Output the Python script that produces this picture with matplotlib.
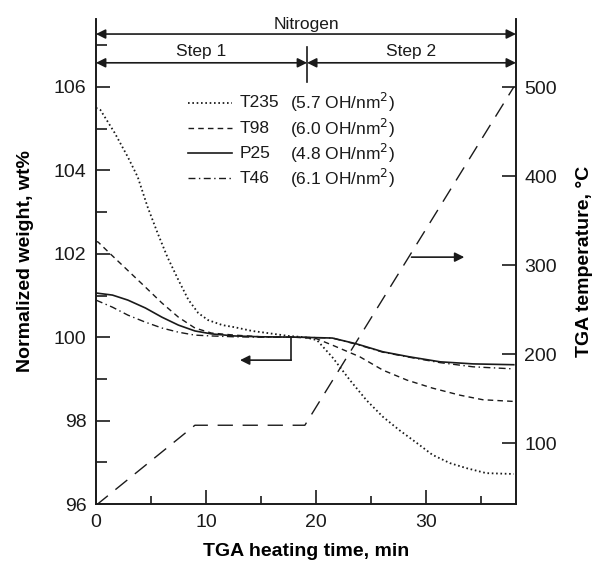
import numpy as np
import matplotlib.pyplot as plt
from matplotlib.ticker import MultipleLocator

plt.rcParams['font.family'] = ['Liberation Sans', 'DejaVu Sans']

# weight curves (time in min, weight in wt%)
t235_t = [0, 0.4, 1.7, 2.9, 3.8, 4.7, 5.6, 6.5, 7.5, 8.4, 9.3, 10.2, 11.5, 12.6, 14.2,
          15.6, 17.5, 19, 20.1, 21.5, 23.1, 24.6, 26.1, 27.6, 29.2, 30.6, 32.2, 33.7,
          35.5, 38]
t235_w = [105.5, 105.45, 104.9, 104.32, 103.84, 103.12, 102.5, 101.92, 101.37, 100.9,
          100.58, 100.41, 100.29, 100.24, 100.15, 100.1, 100.03, 100.0, 99.93, 99.52,
          98.97, 98.49, 98.09, 97.77, 97.46, 97.18, 96.98, 96.86, 96.74, 96.72]

t98_t = [0, 0.2, 1.3, 2.9, 4.5, 6, 7.5, 9, 10.5, 12.6, 15, 18, 20, 21.5, 24, 26.1, 28.3,
         30.6, 33.1, 35.2, 38]
t98_w = [102.3, 102.28, 102.0, 101.6, 101.2, 100.82, 100.48, 100.22, 100.1, 100.05,
         100.01, 100.0, 99.97, 99.81, 99.53, 99.21, 98.97, 98.78, 98.61, 98.5, 98.46]

p25_t = [0, 1.5, 2.9, 4.5, 6, 7.5, 9, 10.5, 12.6, 15, 18.5, 21.5, 23.7, 26.1, 28.5,
         31.3, 34.3, 38]
p25_w = [101.06, 101.01, 100.89, 100.7, 100.48, 100.29, 100.15, 100.08, 100.03, 100.01,
         100.0, 99.98, 99.84, 99.65, 99.53, 99.41, 99.36, 99.34]

t46_t = [0, 1.5, 2.9, 4.5, 6, 7.5, 9, 10.5, 12.6, 15, 18.5, 21.5, 23.7, 26.1, 28.5,
         31.3, 34.3, 38]
t46_w = [100.89, 100.72, 100.53, 100.36, 100.22, 100.12, 100.05, 100.03, 100.01, 100.0,
         100.0, 99.98, 99.83, 99.64, 99.52, 99.39, 99.29, 99.24]

# temperature program
temp_t = [0, 9, 19, 38]
temp_c = [30, 120, 120, 500]

names = ['T235', 'T98', 'P25', 'T46']
oh_density = ['5.7', '6.0', '4.8', '6.1']

col = '#1a1a1a'

fig = plt.figure(figsize=(5.98, 5.73), dpi=100)
ax = fig.add_axes([0.1605, 0.1204, 0.7023, 0.8464])
ax2 = ax.twinx()

styles = [
    dict(linestyle=(0, (0.9, 1.5)), lw=1.3),
    dict(linestyle=(0, (4, 3)), lw=1.0),
    dict(linestyle='-', lw=1.2),
    dict(linestyle=(0, (5, 2.5, 1, 2.5)), lw=1.0),
]
series = [(t235_t, t235_w), (t98_t, t98_w), (p25_t, p25_w), (t46_t, t46_w)]
for (tt, ww), st in zip(series, styles):
    ax.plot(tt, ww, color=col, **st)

ax2.plot(temp_t, temp_c, color=col, lw=1.0, linestyle=(0, (11, 7)))

ax.set_xlim(0, 38.2)

ax.xaxis.set_major_locator(MultipleLocator(10))
ax.xaxis.set_minor_locator(MultipleLocator(5))
ax.set_yticks([96, 98, 100, 102, 104, 106])
ax.yaxis.set_minor_locator(MultipleLocator(1))
ax2.set_yticks([100, 200, 300, 400, 500])

for a in (ax, ax2):
    a.spines['top'].set_visible(False)
    for s in a.spines.values():
        s.set_color(col)
        s.set_linewidth(1.2)
ax.tick_params(which='both', direction='in', labelsize=14, colors=col, width=1.2)
ax.tick_params(which='major', length=10, pad=7)
ax.tick_params(which='minor', length=6)
ax.tick_params(axis='y', which='minor', length=8)
ax.tick_params(top=False, right=False, which='both')
ax2.tick_params(direction='in', labelsize=14, colors=col, width=1.2, length=10, pad=6)
ax2.set_ylim(31.5, 576.4)
ax.set_ylim(96, 107.63)

ax.set_xlabel('TGA heating time, min', fontsize=14, fontweight='bold', labelpad=9)
ax.set_ylabel('Normalized weight, wt%', fontsize=14, fontweight='bold', labelpad=14)
ax2.set_ylabel('TGA temperature, °C', fontsize=14, fontweight='bold', labelpad=14)

# top annotations: Nitrogen and steps
arrow = dict(arrowstyle='<|-|>', color=col, lw=1.2, shrinkA=0, shrinkB=0,
             mutation_scale=14)
ax.annotate('', xy=(0, 107.27), xytext=(38.2, 107.27), arrowprops=arrow,
            annotation_clip=False)
ax.text(19.1, 107.31, 'Nitrogen', ha='center', va='bottom', fontsize=12.5, color=col)
ax.annotate('', xy=(0, 106.58), xytext=(19.2, 106.58), arrowprops=arrow)
ax.annotate('', xy=(19.2, 106.58), xytext=(38.2, 106.58), arrowprops=arrow)
ax.plot([19.2, 19.2], [106.12, 106.96], color=col, lw=1.2)
ax.text(9.6, 106.66, 'Step 1', ha='center', va='bottom', fontsize=12.5, color=col)
ax.text(28.7, 106.66, 'Step 2', ha='center', va='bottom', fontsize=12.5, color=col)

# axis-pointing arrows
ax.plot([17.7, 17.7], [100.0, 99.45], color=col, lw=1.2)
ax.annotate('', xy=(13.1, 99.45), xytext=(17.75, 99.45),
            arrowprops=dict(arrowstyle='-|>', color=col, lw=1.2, shrinkA=0, shrinkB=0,
                            mutation_scale=14))
ax.annotate('', xy=(33.5, 101.92), xytext=(28.7, 101.92),
            arrowprops=dict(arrowstyle='-|>', color=col, lw=1.2, shrinkA=0, shrinkB=0,
                            mutation_scale=14))

# legend drawn by hand so the brackets line up
rows = [0.827, 0.775, 0.723, 0.672]
for y, st, nm, oh in zip(rows, styles, names, oh_density):
    ax.plot([0.219, 0.324], [y, y], transform=ax.transAxes, color=col, **st)
    ax.text(0.343, y, nm, transform=ax.transAxes, va='center', fontsize=12.5, color=col)
    ax.text(0.462, y, '(' + oh + ' OH/nm$^{2}$)', transform=ax.transAxes,
            va='center', fontsize=12.5, color=col)

fig.savefig('out.png', dpi=100)
